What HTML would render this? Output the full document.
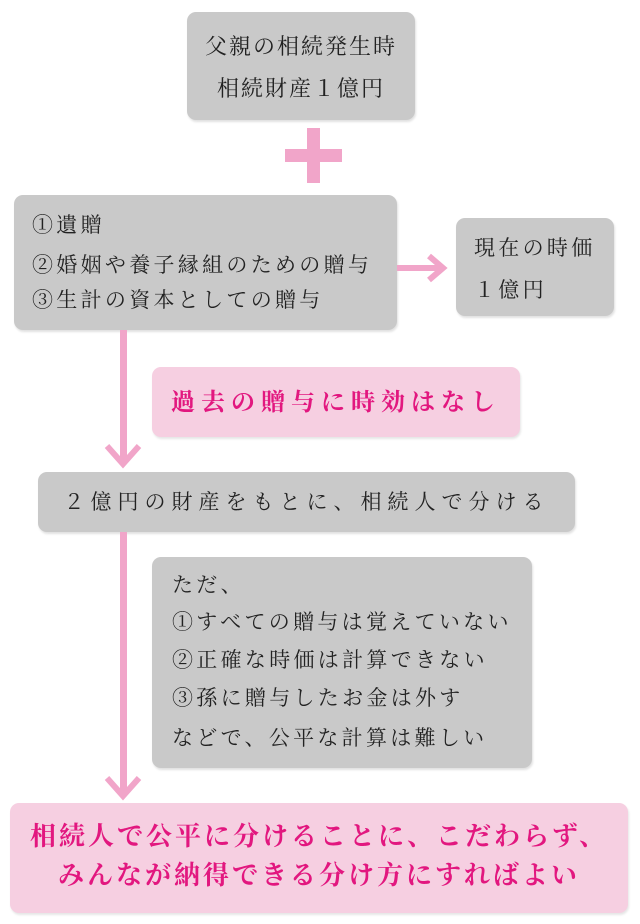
<!DOCTYPE html>
<html><head><meta charset="utf-8"><style>
body{margin:0;width:640px;height:924px;background:#fff;position:relative;overflow:hidden;font-family:"Liberation Serif","Noto Serif CJK SC",serif;color:#222}
.b{position:absolute;border-radius:9px;box-sizing:border-box}
.g{background:#c9c9c9;box-shadow:1px 2px 2px rgba(0,0,0,.12)}
.p{background:#f6cfe1;box-shadow:1px 2px 2px rgba(0,0,0,.1)}
.t{position:absolute;white-space:nowrap}
.s{font-size:21px;line-height:26px;letter-spacing:3.3px}
.l{position:absolute;background:#f1a5c9}
</style></head><body>
<div class="b g" style="left:187px;top:12px;width:228px;height:108px"></div>
<div class="t" style="left:187px;width:228px;text-align:center;top:33px;font-size:22px;letter-spacing:2px;line-height:28px">父親の相続発生時</div>
<div class="t" style="left:187px;width:228px;text-align:center;top:75px;font-size:22px;letter-spacing:2px;line-height:28px">相続財産１億円</div>
<div class="l" style="left:307px;top:128px;width:13px;height:55px"></div>
<div class="l" style="left:285px;top:149px;width:57px;height:13px"></div>

<div class="b g" style="left:14px;top:195px;width:383px;height:135px"></div>
<div class="t s" style="left:32px;top:212px">①遺贈</div>
<div class="t s" style="left:32px;top:252px">②婚姻や養子縁組のための贈与</div>
<div class="t s" style="left:32px;top:287px">③生計の資本としての贈与</div>
<svg style="position:absolute;left:395px;top:250px" width="60" height="40"><path d="M2 18H48M34 6L48 18L34 30" stroke="#f1a5c9" stroke-width="6" fill="none"/></svg>
<div class="b g" style="left:456px;top:218px;width:158px;height:98px"></div>
<div class="t s" style="left:474px;top:235px">現在の時価</div>
<div class="t s" style="left:474px;top:277px">１億円</div>

<div class="l" style="left:120px;top:330px;width:7px;height:130px"></div>
<svg style="position:absolute;left:103px;top:440px" width="42" height="30"><path d="M4 6L20 24L36 6" stroke="#f1a5c9" stroke-width="6" fill="none"/></svg>
<div class="b p" style="left:152px;top:367px;width:368px;height:70px"></div>
<div class="t" style="left:152px;width:368px;text-align:center;top:388px;font-size:24px;line-height:30px;letter-spacing:6px;color:#e2177f;font-weight:bold">過去の贈与に時効はなし</div>

<div class="b g" style="left:38px;top:472px;width:537px;height:60px"></div>
<div class="t" style="left:38px;width:537px;text-align:center;top:488px;font-size:21px;line-height:28px;letter-spacing:6px">２億円の財産をもとに、相続人で分ける</div>

<div class="l" style="left:120px;top:532px;width:7px;height:260px"></div>
<svg style="position:absolute;left:103px;top:772px" width="42" height="30"><path d="M4 6L20 24L36 6" stroke="#f1a5c9" stroke-width="6" fill="none"/></svg>

<div class="b g" style="left:152px;top:557px;width:380px;height:211px"></div>
<div class="t s" style="left:172px;top:572px">ただ、</div>
<div class="t s" style="left:172px;top:609px">①すべての贈与は覚えていない</div>
<div class="t s" style="left:172px;top:647px">②正確な時価は計算できない</div>
<div class="t s" style="left:172px;top:685px">③孫に贈与したお金は外す</div>
<div class="t s" style="left:172px;top:725px">などで、公平な計算は難しい</div>

<div class="b p" style="left:10px;top:803px;width:618px;height:110px"></div>
<div class="t" style="left:10px;width:618px;text-align:center;top:821px;font-size:26px;line-height:32px;letter-spacing:3px;color:#e2177f;font-weight:bold">相続人で公平に分けることに、こだわらず、</div>
<div class="t" style="left:10px;width:618px;text-align:center;top:860px;font-size:26px;line-height:32px;letter-spacing:3px;color:#e2177f;font-weight:bold">みんなが納得できる分け方にすればよい</div>
</body></html>
